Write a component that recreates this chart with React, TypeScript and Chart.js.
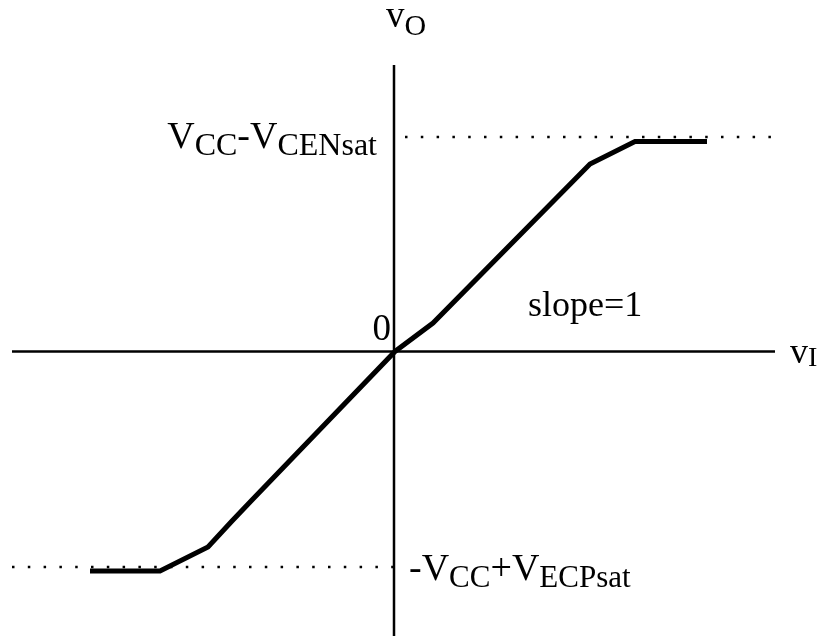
import { useEffect, useRef } from "react";
import { Chart, registerables } from "chart.js";

Chart.register(...registerables);

// Transfer characteristic vO(vI): breakpoints of the piecewise-linear curve
const vIn = [-30.4, -23.4, -18.6, -16.2, -14.2, 0.1, 3.9, 19.6, 24.1, 31.3];
const vOut = [-21.95, -21.95, -19.55, -16.95, -14.85, 0, 2.85, 18.75, 21.0, 21.0];

// Saturation levels (dotted guides)
const satHigh = 21.45;
const satLow = -21.55;

// Axis extents
const xRange = [-38.2, 38.1];
const yRange = [-28.45, 28.65];

// Dotted guide extents along vI
const highGuideX = [1.1, 38.1];
const lowGuideX = [-38.2, 0];

const FAMILY = '"Liberation Serif", "Times New Roman", serif';

type Part = [string, boolean];

function drawRich(
  ctx: CanvasRenderingContext2D,
  parts: Part[],
  x: number,
  y: number,
  align: "left" | "right",
  subDrop: number,
  main: number,
  sub: number
) {
  const widths = parts.map(([t, isSub]) => {
    ctx.font = `${isSub ? sub : main}px ${FAMILY}`;
    return ctx.measureText(t).width;
  });
  const total = widths.reduce((a, b) => a + b, 0);
  let cx = align === "left" ? x : x - total;
  ctx.textAlign = "left";
  ctx.textBaseline = "alphabetic";
  parts.forEach(([t, isSub], i) => {
    ctx.font = `${isSub ? sub : main}px ${FAMILY}`;
    ctx.fillText(t, cx, isSub ? y + subDrop : y);
    cx += widths[i];
  });
}

const labelPlugin = {
  id: "transferLabels",
  afterDatasetsDraw(chart: any) {
    const ctx: CanvasRenderingContext2D = chart.ctx;
    const xs = chart.scales.x;
    const ys = chart.scales.y;
    const x0 = xs.getPixelForValue(0);
    const y0 = ys.getPixelForValue(0);
    const yHi = ys.getPixelForValue(satHigh);
    const yLo = ys.getPixelForValue(satLow);
    ctx.save();
    ctx.fillStyle = "#000";
    drawRich(ctx, [["v", false], ["O", true]], x0 - 8, ys.top - 38, "left", 8, 37, 30);
    drawRich(ctx, [["v", false], ["I", true]], xs.right + 15, y0 + 11, "left", 3, 36, 28);
    drawRich(ctx, [["0", false]], x0 - 3, y0 - 12, "right", 0, 37, 37);
    drawRich(ctx, [["slope=1", false]], x0 + 134, y0 - 36, "left", 0, 36, 36);
    drawRich(
      ctx,
      [["V", false], ["CC", true], ["-V", false], ["CENsat", true]],
      x0 - 17,
      yHi + 11,
      "right",
      7,
      38,
      32
    );
    drawRich(
      ctx,
      [["-V", false], ["CC", true], ["+V", false], ["ECPsat", true]],
      x0 + 15,
      yLo + 13,
      "left",
      7,
      38,
      31
    );
    ctx.restore();
  },
};

export default function App() {
  const canvasRef = useRef<HTMLCanvasElement | null>(null);

  useEffect(() => {
    const canvas = canvasRef.current;
    if (!canvas) return;
    const curve = vIn.map((x, i) => ({ x, y: vOut[i] }));
    const chart = new Chart(canvas, {
      type: "line",
      data: {
        datasets: [
          {
            data: curve,
            borderColor: "#000",
            borderWidth: 5,
            pointRadius: 0,
            tension: 0,
            borderJoinStyle: "miter",
            order: 0,
          },
          {
            data: [
              { x: xRange[0], y: 0 },
              { x: xRange[1], y: 0 },
            ],
            borderColor: "#000",
            borderWidth: 2.5,
            pointRadius: 0,
            order: 2,
          },
          {
            data: [
              { x: 0, y: yRange[0] },
              { x: 0, y: yRange[1] },
            ],
            borderColor: "#000",
            borderWidth: 2.5,
            pointRadius: 0,
            order: 2,
          },
          {
            data: [
              { x: highGuideX[0], y: satHigh },
              { x: highGuideX[1], y: satHigh },
            ],
            borderColor: "#000",
            borderWidth: 2.5,
            borderDash: [2.5, 13.3],
            pointRadius: 0,
            order: 1,
          },
          {
            data: [
              { x: lowGuideX[0], y: satLow },
              { x: lowGuideX[1], y: satLow },
            ],
            borderColor: "#000",
            borderWidth: 2.5,
            borderDash: [2.5, 13.3],
            pointRadius: 0,
            order: 1,
          },
        ],
      },
      options: {
        responsive: false,
        animation: false,
        clip: false as any,
        layout: { padding: { left: 12, right: 46, top: 65, bottom: 0 } },
        plugins: { legend: { display: false }, tooltip: { enabled: false } },
        scales: {
          x: { type: "linear", min: xRange[0], max: xRange[1], display: false },
          y: { type: "linear", min: yRange[0], max: yRange[1], display: false },
        },
      },
      plugins: [labelPlugin],
    });
    return () => chart.destroy();
  }, []);

  return (
    <div style={{ position: "fixed", left: 0, top: 0, width: 821, height: 636, background: "#fff" }}>
      <canvas ref={canvasRef} width={821} height={636} style={{ display: "block" }} />
    </div>
  );
}
